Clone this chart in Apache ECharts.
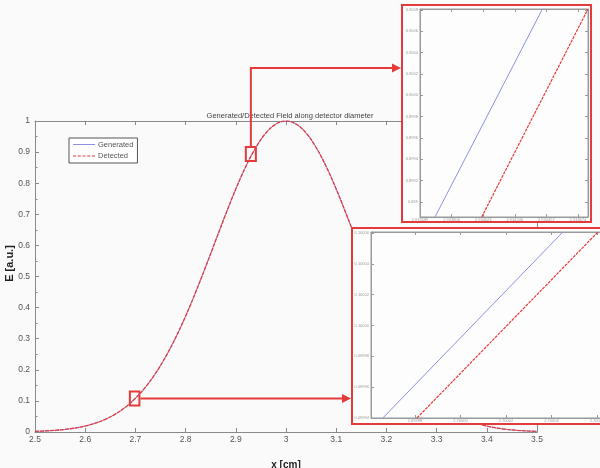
<!DOCTYPE html>
<html><head><meta charset="utf-8">
<script src="https://cdn.jsdelivr.net/npm/echarts@6/dist/echarts.min.js"></script>
<style>html,body{margin:0;padding:0;background:#fafafa}#c{width:600px;height:468px}</style>
</head><body><div id="c"></div>
<script>
// ---- main curve ----
const xValues = [2.50,2.52,2.54,2.56,2.58,2.60,2.62,2.64,2.66,2.68,2.70,2.72,2.74,2.76,2.78,2.80,2.82,2.84,2.86,2.88,2.90,2.92,2.94,2.96,2.98,3.00,
  3.02,3.04,3.06,3.08,3.10,3.12,3.14,3.16,3.18,3.20,3.22,3.24,3.26,3.28,3.30,3.32,3.34,3.36,3.38,3.40,3.42,3.44,3.46,3.48,3.50];
const generated = [0.0021,0.0034,0.0054,0.0084,0.0128,0.0192,0.0283,0.0408,0.0576,0.0798,0.1084,0.1443,0.1884,0.2412,0.3027,0.3725,0.4493,0.5315,0.6163,0.7008,0.7812,0.8538,0.9149,0.9613,0.9902,1.0,
  0.9902,0.9613,0.9149,0.8538,0.7812,0.7008,0.6163,0.5315,0.4493,0.3725,0.3027,0.2412,0.1884,0.1443,0.1084,0.0798,0.0576,0.0408,0.0283,0.0192,0.0128,0.0084,0.0054,0.0034,0.0021];
const detected = [0.0021,0.0034,0.0054,0.0084,0.0128,0.0192,0.0283,0.0408,0.0576,0.0798,0.1084,0.1443,0.1884,0.2412,0.3027,0.3725,0.4493,0.5315,0.6163,0.7008,0.7812,0.8538,0.9149,0.9613,0.9902,1.0,
  0.9902,0.9613,0.9149,0.8538,0.7812,0.7008,0.6163,0.5315,0.4493,0.3725,0.3027,0.2412,0.1884,0.1443,0.1084,0.0798,0.0576,0.0408,0.0283,0.0192,0.0128,0.0084,0.0054,0.0034,0.0021];
const mainXRange = [2.5, 3.5];
const mainYRange = [0, 1];
// zoom boxes drawn on main plot: [[x1,y1],[x2,y2]]
const zoomBoxUpper = [[2.920, 0.916], [2.940, 0.871]];
const zoomBoxLower = [[2.689, 0.130], [2.708, 0.085]];

// ---- upper inset ----
const topInsetXTickLabels = ['2.933589','2.933806','2.934023','2.934240','2.934457','2.934674'];
const topInsetYTickLabels = ['0.899','0.8992','0.8994','0.8996','0.8998','0.9000','0.9002','0.9004','0.9006','0.9008'];
const topInsetXRange = [2.933589, 2.934743];
const topInsetYRange = [0.898857, 0.90081];
const topInsetGenerated = [[2.933692, 0.898857], [2.934430, 0.90081]];
const topInsetDetected = [[2.934013, 0.898857], [2.934743, 0.90081]];

// ---- lower inset ----
const bottomInsetXTickLabels = ['2.69998','2.70000','2.70002','2.70004','2.70006'];
const bottomInsetYTickLabels = ['0.09994','0.09996','0.09998','0.10000','0.10002','0.10004','0.10006'];
const bottomInsetXRange = [2.6999607, 2.7000701];
const bottomInsetYRange = [0.09994, 0.1000606];
const bottomInsetGenerated = [[2.6999659, 0.09994], [2.7000450, 0.1000606]];
const bottomInsetDetected = [[2.6999809, 0.09994], [2.7000604, 0.1000606]];

// ---- layout ----
const RED = '#e53a3a', BLUE = '#8c90e6', AX = '#8a8a8a';
const mainGrid = {left: 35, top: 121, width: 502, height: 311};
const topGrid = {left: 420, top: 9, width: 168, height: 208};
const botGrid = {left: 371, top: 232, width: 249, height: 186};
const topFrame = {x: 402, y: 5, width: 189, height: 217};
const botFrame = {x: 352, y: 228, width: 272, height: 196};
const ARROW1_Y = 68;
const ICON_SOLID = 'path://M0,0h22v1h-22z';
const ICON_DASH = 'path://M0,0h3v1h-3zM4.75,0h3v1h-3zM9.5,0h3v1h-3zM14.25,0h3v1h-3zM19,0h3v1h-3z';

const chart = echarts.init(document.getElementById('c'), null, {renderer: 'canvas'});
const FONT = 'Liberation Sans, Arial, sans-serif';

function num(a) { return a.map(Number); }
function insetAxis(kind, gridIndex, range, labels, pos, showLabel) {
  const ticks = num(labels);
  return {
    type: 'value', gridIndex, position: pos, min: range[0], max: range[1], z: 12,
    axisLine: {show: true, onZero: false, lineStyle: {color: '#9a9a9a', width: 1}},
    axisTick: {show: true, inside: true, length: 3, customValues: ticks, lineStyle: {color: '#9a9a9a'}},
    axisLabel: {show: showLabel, customValues: ticks, fontSize: 4, color: '#9c9c9c', margin: kind === 'x' ? 1 : 2,
      fontFamily: FONT, formatter: v => { const i = ticks.findIndex(t => Math.abs(t - v) < 1e-9); return i >= 0 ? labels[i] : ''; }},
    splitLine: {show: false}
  };
}
function mainAxis(kind, pos, showLabel) {
  const range = kind === 'x' ? mainXRange : mainYRange;
  return {
    type: 'value', gridIndex: 0, position: pos, min: range[0], max: range[1], interval: 0.1,
    axisLine: {show: true, onZero: false, lineStyle: {color: AX, width: 1}},
    axisTick: {show: true, inside: true, length: 4, lineStyle: {color: AX}},
    minorTick: {show: kind === 'y', splitNumber: 2, length: 2.5, lineStyle: {color: AX}},
    axisLabel: {show: showLabel, fontSize: 8.5, color: '#555', margin: kind === 'x' ? 3 : 5, fontFamily: FONT},
    splitLine: {show: false}
  };
}

const xMain = mainAxis('x', 'bottom', true);
xMain.name = 'x [cm]'; xMain.nameLocation = 'middle'; xMain.nameGap = 28; xMain.nameMoveOverlap = false;
xMain.nameTextStyle = {fontSize: 10, fontWeight: 'bold', color: '#222', fontFamily: FONT};
const yMain = mainAxis('y', 'left', true);
yMain.name = 'E [a.u.]'; yMain.nameLocation = 'middle'; yMain.nameGap = 20; yMain.nameMoveOverlap = false;
yMain.nameTextStyle = {fontSize: 11, fontWeight: 'bold', color: '#222', fontFamily: FONT, padding: [0, 0, 0, 26]};
const xMainTop = mainAxis('x', 'top', false);
const yMainRight = mainAxis('y', 'right', false);
yMainRight.minorTick.show = false;

const pairs = (xs, ys) => xs.map((x, i) => [x, ys[i]]);
const gridBase = {containLabel: false, outerBoundsMode: 'none'};

const option = {
  backgroundColor: '#fafafa',
  animation: false,
  title: {text: 'Generated/Detected Field along detector diameter', left: 285, top: 107, textAlign: 'center',
    textStyle: {fontSize: 7.5, fontWeight: 'normal', color: '#444', fontFamily: FONT}},
  legend: {orient: 'vertical', left: 69, top: 138, itemWidth: 22, itemHeight: 1.5, itemGap: 3.5, padding: [2.5, 4, 3, 4],
    borderColor: '#555', borderWidth: 1, backgroundColor: '#fff',
    data: [{name: 'Generated', icon: ICON_SOLID}, {name: 'Detected', icon: ICON_DASH}],
    textStyle: {fontSize: 7.5, color: '#555', fontFamily: FONT, padding: [0, 0, 0, -2]}},
  grid: [
    Object.assign({}, gridBase, mainGrid),
    Object.assign({show: true, borderColor: '#9a9a9a', borderWidth: 1, backgroundColor: 'transparent', z: 11}, gridBase, topGrid),
    Object.assign({show: true, borderColor: '#9a9a9a', borderWidth: 1, backgroundColor: 'transparent', z: 11}, gridBase, botGrid)
  ],
  xAxis: [xMain, xMainTop,
    insetAxis('x', 1, topInsetXRange, topInsetXTickLabels, 'bottom', true),
    insetAxis('x', 1, topInsetXRange, topInsetXTickLabels, 'top', false),
    insetAxis('x', 2, bottomInsetXRange, bottomInsetXTickLabels, 'bottom', true),
    insetAxis('x', 2, bottomInsetXRange, bottomInsetXTickLabels, 'top', false)],
  yAxis: [yMain, yMainRight,
    insetAxis('y', 1, topInsetYRange, topInsetYTickLabels, 'left', true),
    insetAxis('y', 1, topInsetYRange, topInsetYTickLabels, 'right', false),
    insetAxis('y', 2, bottomInsetYRange, bottomInsetYTickLabels, 'left', true),
    insetAxis('y', 2, bottomInsetYRange, bottomInsetYTickLabels, 'right', false)],
  series: [
    {name: 'Generated', type: 'line', xAxisIndex: 0, yAxisIndex: 0, data: pairs(xValues, generated), smooth: 0.4,
      symbol: 'none', lineStyle: {color: BLUE, width: 1}, itemStyle: {color: BLUE}, z: 2},
    {name: 'Detected', type: 'line', xAxisIndex: 0, yAxisIndex: 0, data: pairs(xValues, detected), smooth: 0.4,
      symbol: 'none', lineStyle: {color: RED, width: 1.3, type: [4, 1]}, itemStyle: {color: RED}, z: 3,
      markArea: {silent: true, itemStyle: {color: 'rgba(0,0,0,0)', borderColor: RED, borderWidth: 2},
        data: [[{coord: zoomBoxUpper[0]}, {coord: zoomBoxUpper[1]}], [{coord: zoomBoxLower[0]}, {coord: zoomBoxLower[1]}]]}},
    {name: 'Generated', type: 'line', xAxisIndex: 2, yAxisIndex: 2, data: topInsetGenerated, symbol: 'none',
      lineStyle: {color: BLUE, width: 1}, itemStyle: {color: BLUE}, z: 13},
    {name: 'Detected', type: 'line', xAxisIndex: 2, yAxisIndex: 2, data: topInsetDetected, symbol: 'none',
      lineStyle: {color: RED, width: 1.2, type: [3, 1]}, itemStyle: {color: RED}, z: 13},
    {name: 'Generated', type: 'line', xAxisIndex: 4, yAxisIndex: 4, data: bottomInsetGenerated, symbol: 'none',
      lineStyle: {color: BLUE, width: 1}, itemStyle: {color: BLUE}, z: 13},
    {name: 'Detected', type: 'line', xAxisIndex: 4, yAxisIndex: 4, data: bottomInsetDetected, symbol: 'none',
      lineStyle: {color: RED, width: 1.2, type: [3, 1]}, itemStyle: {color: RED}, z: 13}
  ]
};
chart.setOption(option);

// frames and arrows, anchored to the zoom boxes via the main axes
const upTop = chart.convertToPixel({xAxisIndex: 0, yAxisIndex: 0}, [(zoomBoxUpper[0][0] + zoomBoxUpper[1][0]) / 2, zoomBoxUpper[0][1]]);
const lowRight = chart.convertToPixel({xAxisIndex: 0, yAxisIndex: 0}, [zoomBoxLower[1][0], (zoomBoxLower[0][1] + zoomBoxLower[1][1]) / 2]);
function head(x, y) { return {type: 'polygon', z: 14, shape: {points: [[x, y], [x - 9, y - 4.5], [x - 9, y + 4.5]]}, style: {fill: RED}}; }
const a1End = topFrame.x - 1, a2End = botFrame.x - 1;
chart.setOption({
  graphic: {elements: [
    {type: 'rect', z: 10, shape: topFrame, style: {fill: '#fdfdfd', stroke: RED, lineWidth: 2}},
    {type: 'rect', z: 10, shape: botFrame, style: {fill: '#fdfdfd', stroke: RED, lineWidth: 2}},
    {type: 'polyline', z: 14, shape: {points: [[upTop[0], upTop[1] - 1], [upTop[0], ARROW1_Y], [a1End - 8, ARROW1_Y]]},
      style: {stroke: RED, lineWidth: 2, fill: null}},
    head(a1End, ARROW1_Y),
    {type: 'polyline', z: 14, shape: {points: [[lowRight[0] + 1, lowRight[1]], [a2End - 8, lowRight[1]]]},
      style: {stroke: RED, lineWidth: 2, fill: null}},
    head(a2End, lowRight[1])
  ]}
});
</script></body></html>
